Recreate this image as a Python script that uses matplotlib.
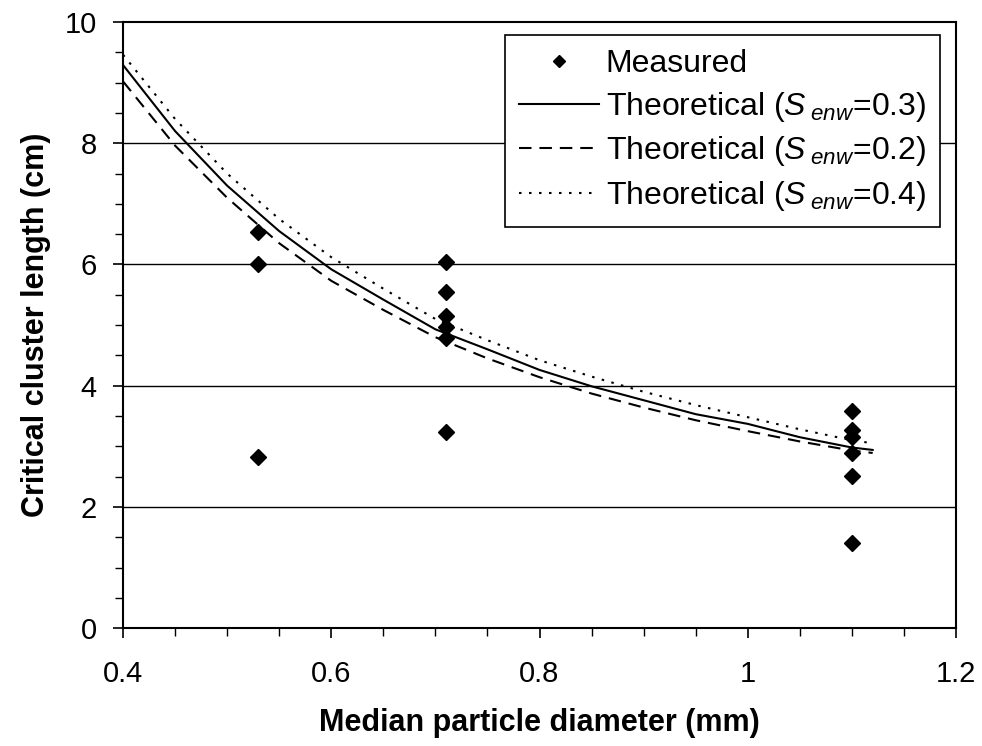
import matplotlib
matplotlib.use("Agg")
import matplotlib.pyplot as plt
from matplotlib.ticker import MultipleLocator, FixedLocator

plt.rcParams['font.family'] = ['Liberation Sans', 'DejaVu Sans']
plt.rcParams['mathtext.fontset'] = 'custom'
plt.rcParams['mathtext.rm'] = 'Liberation Sans'
plt.rcParams['mathtext.it'] = 'Liberation Sans:italic'

# Measured data
meas_x = [0.53, 0.53, 0.53,
          0.71, 0.71, 0.71, 0.71, 0.71, 0.71,
          1.10, 1.10, 1.10, 1.10, 1.10, 1.10]
meas_y = [6.53, 6.00, 2.82,
          6.04, 5.54, 5.15, 4.97, 4.79, 3.23,
          3.58, 3.27, 3.15, 2.89, 2.51, 1.40]

# Theoretical curves
theo_x = [0.40, 0.45, 0.50, 0.55, 0.60, 0.65, 0.70, 0.75, 0.80, 0.85,
          0.90, 0.95, 1.00, 1.05, 1.10, 1.12]
theo_s03 = [9.29, 8.20, 7.30, 6.55, 5.92, 5.42, 4.93, 4.60, 4.26, 3.99,
            3.76, 3.53, 3.37, 3.15, 2.98, 2.94]
theo_s02 = [9.02, 7.96, 7.10, 6.35, 5.73, 5.25, 4.80, 4.45, 4.14, 3.87,
            3.64, 3.43, 3.25, 3.08, 2.93, 2.89]
theo_s04 = [9.46, 8.40, 7.50, 6.75, 6.12, 5.60, 5.10, 4.75, 4.42, 4.15,
            3.90, 3.68, 3.48, 3.28, 3.10, 3.05]

x_ticks = [0.4, 0.6, 0.8, 1.0, 1.2]
x_tick_labels = ['0.4', '0.6', '0.8', '1', '1.2']
y_ticks = [0, 2, 4, 6, 8, 10]

fig = plt.figure(figsize=(9.82, 7.46), dpi=100)
ax = fig.add_axes([0.1253, 0.158, 0.8482, 0.8125])

for yv in [2, 4, 6, 8]:
    ax.axhline(yv, color='black', lw=1.0, zorder=1)

ax.plot(meas_x, meas_y, linestyle='none', marker='D', markersize=8.5,
        color='black', label='Measured', zorder=4)
ax.plot(theo_x, theo_s03, color='black', lw=1.5, linestyle='-',
        label=r'Theoretical ($S_{\;enw}$=0.3)', zorder=3)
ax.plot(theo_x, theo_s02, color='black', lw=1.5, linestyle=(0, (6, 3.8)),
        label=r'Theoretical ($S_{\;enw}$=0.2)', zorder=3)
ax.plot(theo_x, theo_s04, color='black', lw=1.5, linestyle=(0, (1.2, 3.6)),
        label=r'Theoretical ($S_{\;enw}$=0.4)', zorder=3)

ax.set_xlim(0.4, 1.2)
ax.set_ylim(0, 10)
ax.xaxis.set_major_locator(FixedLocator(x_ticks))
ax.set_xticklabels(x_tick_labels)
ax.xaxis.set_minor_locator(MultipleLocator(0.05))
ax.yaxis.set_major_locator(FixedLocator(y_ticks))
ax.yaxis.set_minor_locator(MultipleLocator(0.5))

ax.tick_params(axis='both', which='major', direction='out', length=7,
               width=1.2, labelsize=21, colors='black')
ax.tick_params(axis='both', which='minor', direction='out', length=6,
               width=1.0)
ax.tick_params(axis='x', which='major', pad=16)
ax.tick_params(axis='y', which='major', pad=12)

for sp in ax.spines.values():
    sp.set_linewidth(1.5)
    sp.set_color('black')

ax.set_xlabel('Median particle diameter (mm)', fontsize=22, fontweight='bold',
              labelpad=14)
ax.set_ylabel('Critical cluster length (cm)', fontsize=22, fontweight='bold',
              labelpad=10)

leg = ax.legend(loc='upper right', bbox_to_anchor=(0.981, 0.9785), fontsize=23,
                frameon=True, fancybox=False, edgecolor='black',
                handlelength=2.5, handletextpad=0.2, labelspacing=0.33,
                borderpad=0.45, borderaxespad=0.0, markerscale=0.75)
leg.get_frame().set_linewidth(1.2)
leg.get_frame().set_alpha(1)

fig.savefig('out.png', dpi=100)
